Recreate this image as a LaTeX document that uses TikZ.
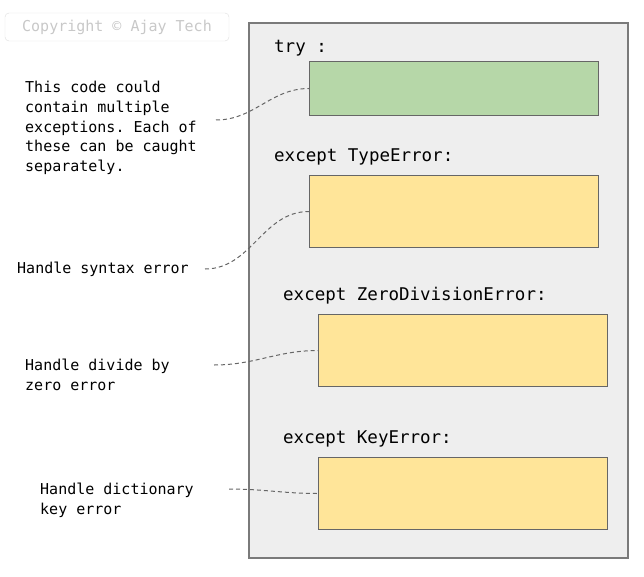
\documentclass[tikz,border=0pt]{standalone}
\usepackage{fontspec}
\setmonofont{DejaVu Sans Mono}
\usetikzlibrary{positioning}
\definecolor{panelgray}{HTML}{EEEEEE}
\definecolor{paneledge}{HTML}{7A7A7A}
\definecolor{edgegray}{HTML}{666666}
\definecolor{trygreen}{HTML}{B6D7A8}
\definecolor{handleryellow}{HTML}{FFE599}
\definecolor{markgray}{HTML}{C8C8C8}
\definecolor{markedge}{HTML}{DDDDDD}
\tikzset{
  block/.style={draw=edgegray, line width=1pt, minimum width=289, minimum height=72, anchor=north west, inner sep=0},
  trybox/.style={block, fill=trygreen, minimum height=54},
  handlerbox/.style={block, fill=handleryellow},
  keyword/.style={font=\ttfamily\fontsize{17.5}{20}\selectfont, anchor=west, inner sep=0},
  note/.style={font=\ttfamily\fontsize{15}{19.7}\selectfont, align=left, anchor=west, inner sep=0},
  link/.style={draw=edgegray, line width=1pt, dash pattern=on 4pt off 3pt},
}
\begin{document}
\begin{tikzpicture}[x=1pt,y=-1pt]
	\useasboundingbox (0,0) rectangle (644,577);

	% watermark
	\node[note, anchor=center, draw=markedge, text=markgray, rounded corners=4pt,
	  minimum width=224, minimum height=28] (copyright) at (117,27) {Copyright © Ajay Tech};

	% code panel
	\draw[paneledge, fill=panelgray, line width=1.1pt] (249,23) rectangle (628,558);

	\node[keyword] (trylabel) at (274,48) {try :};
	\node[trybox] (tryblock) at (309,61) {};
	\node[keyword] (typelabel) at (274,157) {except TypeError:};
	\node[handlerbox] (typeblock) at (309,175) {};
	\node[keyword] (zerolabel) at (283,296) {except ZeroDivisionError:};
	\node[handlerbox] (zeroblock) at (318,314) {};
	\node[keyword] (keylabel) at (283,439) {except KeyError:};
	\node[handlerbox] (keyblock) at (318,457) {};

	% notes on the left
	\node[note] (trynote) at (25,128) {This code could\\contain multiple\\exceptions. Each of\\these can be caught\\separately.};
	\node[note] (typenote) at (17,269) {Handle syntax error};
	\node[note] (zeronote) at (25,375) {Handle divide by\\zero error};
	\node[note] (keynote) at (40,500) {Handle dictionary\\key error};

	\coordinate (trytip) at (216,120);
	\coordinate (typetip) at (205,269);
	\coordinate (zerotip) at (214,365);
	\coordinate (keytip) at (229,489);

	\draw[link] (trytip) to[out=0,in=180] (tryblock.west);
	\draw[link] (typetip) to[out=0,in=180] (typeblock.west);
	\draw[link] (zerotip) to[out=0,in=180] (zeroblock.west);
	\draw[link] (keytip) to[out=0,in=180] (keyblock.west);

\end{tikzpicture}
\end{document}
